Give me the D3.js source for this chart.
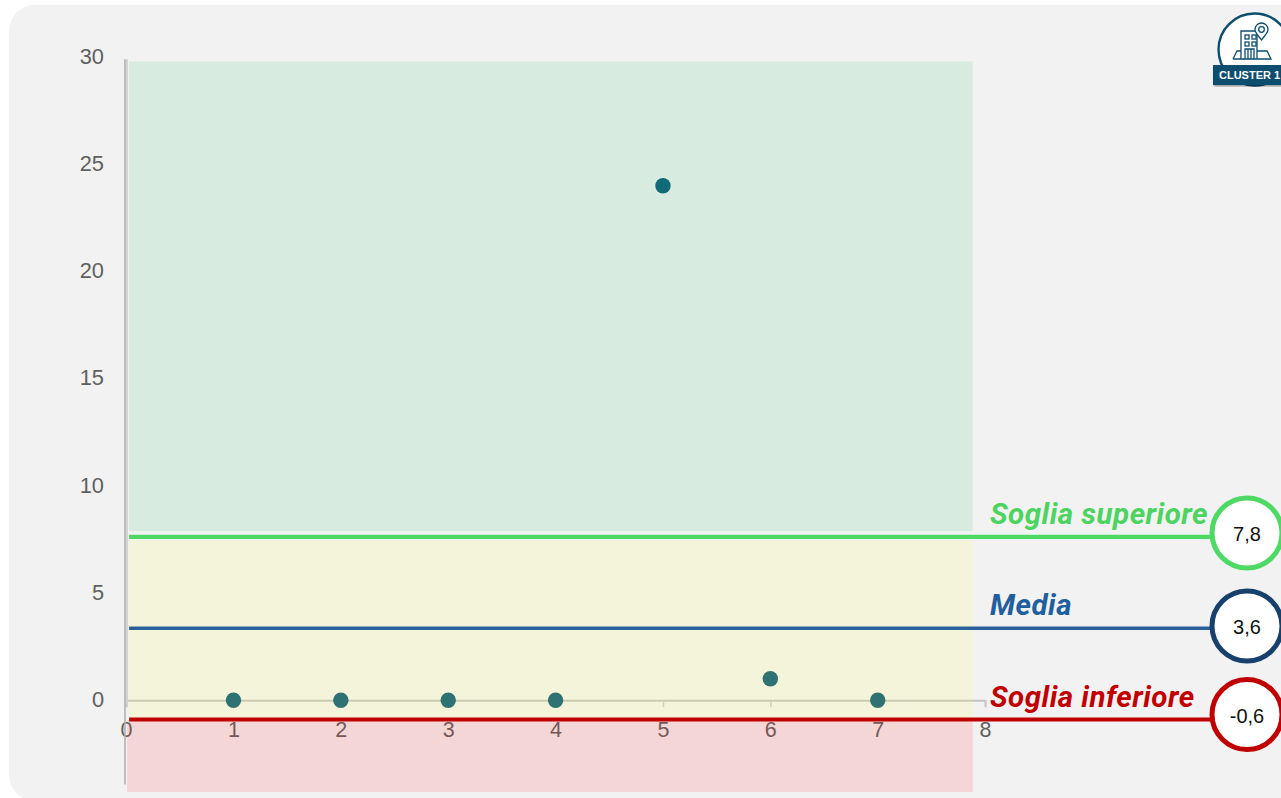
<!DOCTYPE html>
<html><head><meta charset="utf-8">
<script src="https://cdn.jsdelivr.net/npm/d3@7"></script>
<style>html,body{margin:0;padding:0;background:#fff;overflow:hidden}svg{display:block}</style>
</head><body><div id="c"></div>
<script>
const pointX = [1,2,3,4,5,6,7];
const pointY = [0,0,0,0,24,1,0];
const xTicks = [0,1,2,3,4,5,6,7,8];
const yTicks = [0,5,10,15,20,25,30];
const lineNames = ["Soglia superiore","Media","Soglia inferiore"];
const lineLabels = ["7,8","3,6","-0,6"];
const linePositions = [7.62,3.36,-0.9];
const bandNames = ["alto","medio","basso"];
const bandTop = [29.8,7.465,-0.93];
const bandBottom = [7.89,-0.93,-4.28];
const bandLeft = [0.028,0.028,0.01];

const W=1281,H=798;
const x=d3.scaleLinear().domain([0,8]).range([126.1,985.1]);
const y=d3.scaleLinear().domain([0,30]).range([700.2,57.2]);
const svg=d3.select("#c").append("svg").attr("width",W).attr("height",H);
const font="'Liberation Sans',Arial,sans-serif";

svg.append("rect").attr("x",9).attr("y",5).attr("width",1320).attr("height",796).attr("rx",26).attr("fill","#f2f2f2");

// axes
const gx=svg.append("g").attr("transform",`translate(0,${y(0)})`)
  .call(d3.axisBottom(x).tickValues(xTicks).tickSize(7).tickPadding(13).tickFormat(d3.format("d")));
gx.select(".domain").attr("stroke","#c4c4c4").attr("stroke-width",2);
gx.selectAll(".tick line").attr("stroke","#c9c9c9").attr("stroke-width",1.5);
gx.selectAll("text").attr("font-family",font).attr("font-size",21.5).attr("fill","#5f5f5f").attr("dy","0.32em").attr("y",30);
const gy=svg.append("g").attr("transform","translate(124,-0.7)")
  .call(d3.axisLeft(y).tickValues(yTicks).tickSize(0).tickPadding(20).tickFormat(d3.format("d")));
gy.select(".domain").remove();
gy.selectAll("text").attr("font-family",font).attr("font-size",21.8).attr("fill","#5f5f5f");
svg.append("line").attr("x1",125).attr("x2",125).attr("y1",y(29.9)).attr("y2",y(-3.93)).attr("stroke","#b0b0b0").attr("stroke-width",1.6);
svg.append("line").attr("x1",127).attr("x2",127).attr("y1",y(29.9)).attr("y2",y(-0.2)).attr("stroke","#d2d2d2").attr("stroke-width",2);

// dots
svg.append("g").selectAll("circle").data(pointX).join("circle")
  .attr("cx",d=>x(d)).attr("cy",(d,i)=>y(pointY[i])).attr("r",7.7).attr("fill","#0a5a78");

// translucent bands over axes and dots
const bandFill=["rgba(68,195,122,.15)","rgba(255,255,85,.15)","rgba(255,55,55,.15)"];
const x1=x(7.885);
svg.append("g").selectAll("rect").data(bandNames).join("rect")
  .attr("x",(d,i)=>x(bandLeft[i])).attr("width",(d,i)=>x1-x(bandLeft[i]))
  .attr("y",(d,i)=>y(bandTop[i]))
  .attr("height",(d,i)=>y(bandBottom[i])-y(bandTop[i]))
  .attr("fill",(d,i)=>bandFill[i]);

// threshold lines
const lineCol=["#4dd964","#2a6099","#c00000"];
const ringCol=["#4dd964","#17406d","#c00000"];
const labelCol=["#4dd460","#1f5f9e","#c00000"];
const ringY=[533,626,714.5];
const labelX=990;
const labelY=[524,615,707];
svg.append("g").selectAll("line").data(lineNames).join("line")
  .attr("x1",x(0.028)).attr("x2",1215)
  .attr("y1",(d,i)=>y(linePositions[i])).attr("y2",(d,i)=>y(linePositions[i]))
  .attr("stroke",(d,i)=>lineCol[i]).attr("stroke-width",(d,i)=>i==1?3.5:4.2);
svg.append("g").selectAll("text").data(lineNames).join("text")
  .attr("x",labelX).attr("y",(d,i)=>labelY[i]).text(d=>d)
  .attr("font-family","Roboto,sans-serif").attr("font-style","italic").attr("font-weight",700).attr("font-size",29.5).attr("letter-spacing",0.5)
  .attr("fill",(d,i)=>labelCol[i]);
svg.append("g").selectAll("circle").data(lineLabels).join("circle")
  .attr("cx",1247).attr("cy",(d,i)=>ringY[i]).attr("r",35).attr("fill","#fff")
  .attr("stroke",(d,i)=>ringCol[i]).attr("stroke-width",5);
svg.append("g").selectAll("text").data(lineLabels).join("text")
  .attr("x",1247).attr("y",(d,i)=>ringY[i]+1).attr("dy","0.35em").attr("text-anchor","middle").text(d=>d)
  .attr("font-family",font).attr("font-size",20).attr("fill","#111");

// badge
const b=svg.append("g");
const navy="#0e4d6e";
b.append("defs").append("filter").attr("id","sh").append("feDropShadow").attr("dx",1).attr("dy",1.5).attr("stdDeviation",1).attr("flood-opacity",.4);
b.append("circle").attr("cx",1254.5).attr("cy",49.5).attr("r",36).attr("fill","#fff").attr("stroke",navy).attr("stroke-width",2.4);
const ic=b.append("g").attr("fill","none").attr("stroke",navy).attr("stroke-width",1.3);
ic.append("path").attr("d","M1241 59V31H1257V59");
[[1245,35],[1252,35],[1245,42],[1252,42]].forEach(p=>ic.append("rect").attr("x",p[0]).attr("y",p[1]).attr("width",4).attr("height",4));
ic.append("path").attr("d","M1245 59V49H1254V59M1248 49V59M1251 49V59");
ic.append("path").attr("d","M1233 59L1237 51H1241M1257 51H1267L1271 59H1233");
ic.append("path").attr("d","M1261.5 40C1258 35 1255 33 1255 29.5A6.5 6.5 0 0 1 1268 29.5C1268 33 1265 35 1261.5 40Z").attr("fill","#fff");
ic.append("circle").attr("cx",1261.5).attr("cy",29.5).attr("r",2.8);
b.append("rect").attr("x",1213).attr("y",65).attr("width",80).attr("height",20).attr("fill",navy).attr("filter","url(#sh)");
b.append("text").attr("x",1219).attr("y",79).text("CLUSTER 1")
  .attr("font-family",font).attr("font-weight",700).attr("font-size",11).attr("fill","#fff");
</script></body></html>
